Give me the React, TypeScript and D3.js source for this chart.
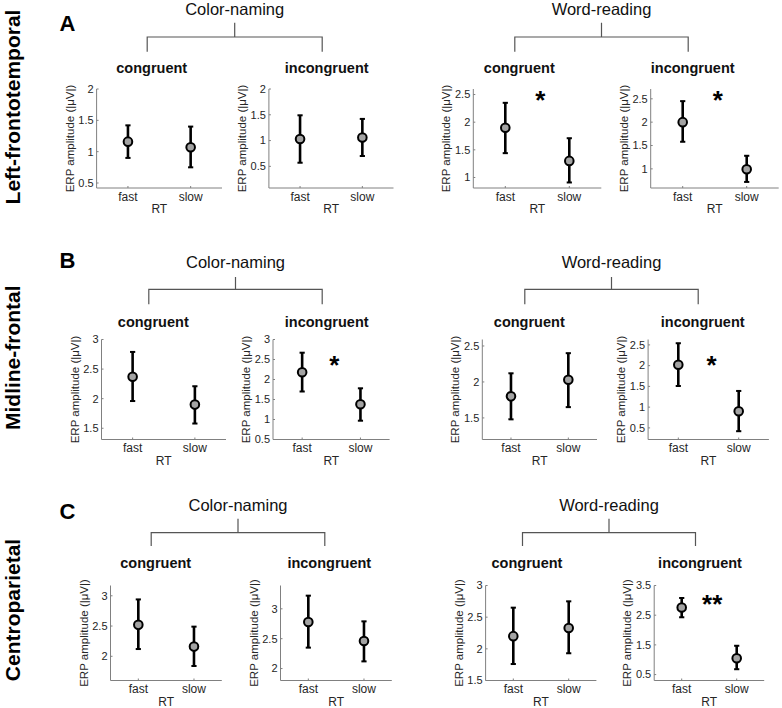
import React from "react";
import * as d3 from "d3";

// ---------- DATA ----------
const regions = ["Left-frontotemporal", "Midline-frontal", "Centroparietal"];
const regionLetters = ["A", "B", "C"];
const tasks = ["Color-naming", "Word-reading"];
const conditions = ["congruent", "incongruent", "congruent", "incongruent"];
const rtLevels = ["fast", "slow"];
const xAxisLabel = "RT";
const yAxisLabel = "ERP amplitude (|\u03BCV|)";

// 12 panels: row-major (A1..A4, B1..B4, C1..C4)
const fastMean = [1.16, 1.03, 1.9, 2.0, 2.37, 2.18, 1.8, 2.02, 2.52, 2.78, 2.2, 2.76];
const fastUpper = [1.42, 1.49, 2.35, 2.45, 2.79, 2.67, 2.12, 2.54, 2.94, 3.22, 2.65, 3.08];
const fastLower = [0.9, 0.57, 1.44, 1.58, 1.96, 1.7, 1.48, 1.51, 2.12, 2.35, 1.76, 2.43];
const slowMean = [1.07, 1.06, 1.3, 0.99, 1.9, 1.38, 2.03, 0.9, 2.16, 2.46, 2.33, 1.05];
const slowUpper = [1.4, 1.42, 1.71, 1.28, 2.21, 1.78, 2.4, 1.39, 2.49, 2.79, 2.75, 1.47];
const slowLower = [0.75, 0.7, 0.91, 0.72, 1.58, 0.97, 1.65, 0.42, 1.84, 2.12, 1.93, 0.68];

const yMin = [0.42, 0.08, 0.81, 0.59, 1.31, 0.5, 1.2, 0.22, 1.6, 1.8, 1.5, 0.3];
const yMax = [2.0, 2.0, 2.6, 2.71, 3.0, 3.0, 2.59, 2.63, 3.17, 3.39, 3.0, 3.5];
const yTicks = [
  [0.5, 1, 1.5, 2],
  [0.5, 1, 1.5, 2],
  [1, 1.5, 2, 2.5],
  [1, 1.5, 2, 2.5],
  [1.5, 2, 2.5, 3],
  [0.5, 1, 1.5, 2, 2.5, 3],
  [1.5, 2, 2.5],
  [0.5, 1, 1.5, 2, 2.5],
  [2, 2.5, 3],
  [2, 2.5, 3],
  [1.5, 2, 2.5, 3],
  [0.5, 1.5, 2.5, 3.5],
];
const sigLabel = ["", "", "*", "*", "", "*", "", "*", "", "", "", "**"];
const sigValue = [0, 0, 2.49, 2.58, 0, 2.5, 0, 2.14, 0, 0, 0, 3.05];

// ---------- LAYOUT ----------
const rowLayout = [
  { top: 89, bottom: 188, titleY: 72.5, taskY: 15, stemTop: 22.7, bar: 37, legBottom: 51.7, letterY: 31, labelY: 107 },
  { top: 339.5, bottom: 439.5, titleY: 326.7, taskY: 268, stemTop: 277, bar: 289.3, legBottom: 304.3, letterY: 267.7, labelY: 357.7 },
  { top: 585.5, bottom: 680.5, titleY: 567.7, taskY: 511.3, stemTop: 518.7, bar: 532.7, legBottom: 546, letterY: 518.7, labelY: 610 },
];
const panelLeft = [96.6, 268.9, 473.3, 650.7, 101.5, 273, 482.3, 648.1, 110.5, 280.5, 485.6, 654.2];
const panelRight = [222, 393.5, 601.3, 778.7, 226, 389.6, 597, 768.9, 221.8, 391.8, 596.4, 764.2];
const titleX = [151.7, 326.7, 519.3, 692.7, 153.3, 326.7, 529.3, 702.7, 155.7, 329.3, 527, 700];

const FONT = "'Liberation Sans', Arial, Helvetica, sans-serif";
const AXIS_COLOR = "#808080";
const TEXT_COLOR = "#262626";

function Panel({ i }: { i: number }) {
  const row = Math.floor(i / 4);
  const rl = rowLayout[row];
  const x = d3.scaleLinear().domain([0.5, 2.5]).range([panelLeft[i], panelRight[i]]);
  const y = d3.scaleLinear().domain([yMin[i], yMax[i]]).range([rl.bottom, rl.top]);
  const pts = [
    { x: 1, m: fastMean[i], lo: fastLower[i], hi: fastUpper[i] },
    { x: 2, m: slowMean[i], lo: slowLower[i], hi: slowUpper[i] },
  ];
  const left = x.range()[0];
  const right = x.range()[1];
  const midY = (rl.top + rl.bottom) / 2;
  return (
    <g>
      <text x={titleX[i]} y={rl.titleY} textAnchor="middle" fontSize={14.5} fontWeight="bold" fill="#111">
        {conditions[i % 4]}
      </text>
      {/* axes */}
      <line x1={left} x2={left} y1={rl.top} y2={rl.bottom} stroke={AXIS_COLOR} strokeWidth={1} />
      <line x1={left} x2={right} y1={rl.bottom} y2={rl.bottom} stroke={AXIS_COLOR} strokeWidth={1} />
      {yTicks[i].map((t) => (
        <g key={t}>
          <line x1={left} x2={left + 2} y1={y(t)} y2={y(t)} stroke={AXIS_COLOR} strokeWidth={1} />
          <text x={left - 3} y={y(t)} dy="0.35em" textAnchor="end" fontSize={11} fill={TEXT_COLOR}>
            {String(t)}
          </text>
        </g>
      ))}
      {rtLevels.map((lab, k) => (
        <g key={lab}>
          <line x1={x(k + 1)} x2={x(k + 1)} y1={rl.bottom} y2={rl.bottom - 2} stroke={AXIS_COLOR} strokeWidth={1} />
          <text x={x(k + 1)} y={rl.bottom + 12.5} textAnchor="middle" fontSize={12} fill={TEXT_COLOR}>
            {lab}
          </text>
        </g>
      ))}
      <text x={(left + right) / 2} y={rl.bottom + 25} textAnchor="middle" fontSize={12} fill={TEXT_COLOR}>
        {xAxisLabel}
      </text>
      <text
        transform={`translate(${left - 23},${midY}) rotate(-90)`}
        textAnchor="middle"
        fontSize={11.5}
        fill={TEXT_COLOR}
      >
        {yAxisLabel}
      </text>
      {/* error bars */}
      {pts.map((p) => (
        <g key={p.x}>
          <line x1={x(p.x)} x2={x(p.x)} y1={y(p.lo)} y2={y(p.hi)} stroke="#000" strokeWidth={2.6} />
          <line x1={x(p.x) - 2.6} x2={x(p.x) + 2.6} y1={y(p.lo)} y2={y(p.lo)} stroke="#000" strokeWidth={2} />
          <line x1={x(p.x) - 2.6} x2={x(p.x) + 2.6} y1={y(p.hi)} y2={y(p.hi)} stroke="#000" strokeWidth={2} />
          <circle cx={x(p.x)} cy={y(p.m)} r={4.3} fill="#a3a3a3" stroke="#000" strokeWidth={2} />
        </g>
      ))}
      {sigLabel[i] && (
        <text x={x(1.5) + 3} y={y(sigValue[i]) + 14} textAnchor="middle" fontSize={26} fontWeight="bold" fill="#000">
          {sigLabel[i]}
        </text>
      )}
    </g>
  );
}

function Bracket({ row, t }: { row: number; t: number }) {
  const rl = rowLayout[row];
  const a = titleX[row * 4 + t * 2] - 4.5;
  const b = titleX[row * 4 + t * 2 + 1] - 4.5;
  const mid = (a + b) / 2;
  return (
    <g>
      <text x={mid} y={rl.taskY} textAnchor="middle" fontSize={16.5} fill="#111">
        {tasks[t]}
      </text>
      <path
        d={`M${mid},${rl.stemTop}V${rl.bar}M${a},${rl.legBottom}V${rl.bar}H${b}V${rl.legBottom}`}
        fill="none"
        stroke="#555"
        strokeWidth={1.2}
      />
    </g>
  );
}

export default function App() {
  return (
    <svg
      width={782}
      height={708}
      style={{ position: "absolute", left: 0, top: 0, background: "#fff" }}
      fontFamily={FONT}
    >
      <rect width={782} height={708} fill="#fff" />
      {regions.map((r, row) => (
        <g key={r}>
          <text
            transform={`translate(20,${rowLayout[row].labelY}) rotate(-90)`}
            textAnchor="middle"
            fontSize={21}
            fontWeight="bold"
            fill="#000"
          >
            {r}
          </text>
          <text x={59.5} y={rowLayout[row].letterY} fontSize={22} fontWeight="bold" fill="#000">
            {regionLetters[row]}
          </text>
          <Bracket row={row} t={0} />
          <Bracket row={row} t={1} />
        </g>
      ))}
      {d3.range(12).map((i) => (
        <Panel key={i} i={i} />
      ))}
    </svg>
  );
}
